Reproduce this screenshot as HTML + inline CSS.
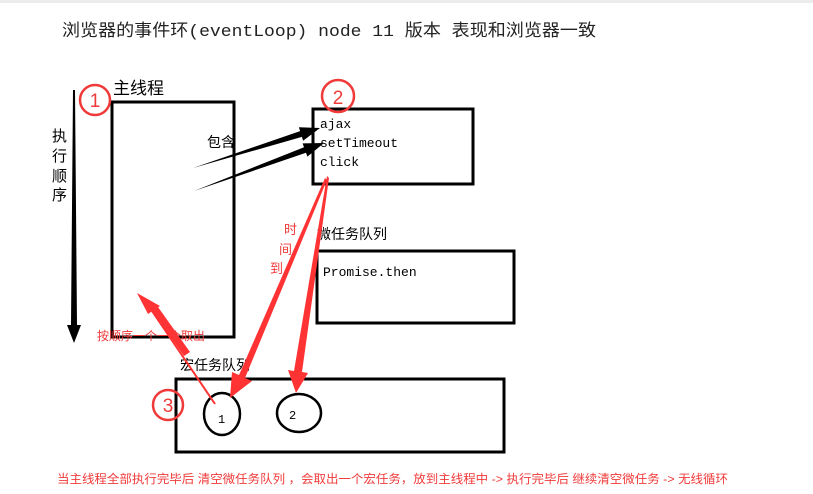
<!DOCTYPE html>
<html><head><meta charset="utf-8"><style>
html,body{margin:0;padding:0;background:#fff;}
svg{display:block;}
.cn{font-family:"Liberation Sans","WenQuanYi Zen Hei","Noto Sans CJK SC",sans-serif;}
.mono{font-family:"Liberation Mono","WenQuanYi Zen Hei","Noto Sans CJK SC",monospace;}
</style></head><body>
<svg width="813" height="494" viewBox="0 0 813 494" xmlns="http://www.w3.org/2000/svg">
<rect x="0" y="0" width="813" height="3" fill="#ececec"/>
<text x="62" y="36" class="mono" font-size="17" fill="#222" textLength="534" lengthAdjust="spacingAndGlyphs">浏览器的事件环(eventLoop)  node 11 版本 表现和浏览器一致</text>

<rect x="112" y="102" width="122" height="235" fill="none" stroke="#000" stroke-width="3"/>
<text x="113" y="94" class="cn" font-size="17">主线程</text>
<circle cx="95" cy="100" r="15" fill="none" stroke="#f03a3a" stroke-width="2.5"/>
<text x="95" y="107" class="cn" font-size="19" fill="#f03a3a" text-anchor="middle">1</text>

<polygon points="73,90 75,90 77,325 81,325 74,343 67,325 71,325" fill="#000"/>
<g class="cn" font-size="15">
<text x="52" y="141">执</text><text x="52" y="161">行</text><text x="52" y="181">顺</text><text x="52" y="200">序</text>
</g>
<text x="207" y="147" class="cn" font-size="14">包含</text>

<polygon points="193,168 300.1,131.1 298.9,127.3 320,128 303.1,140.7 301.9,136.9" fill="#000"/>
<polygon points="194,191 304,147.2 302.6,143.4 324,143 307.4,156.6 306,152.8" fill="#000"/>

<rect x="313" y="109" width="160" height="75" fill="none" stroke="#000" stroke-width="3"/>
<g class="mono" font-size="13"><text x="320" y="128">ajax</text><text x="320" y="147">setTimeout</text><text x="320" y="166">click</text></g>
<circle cx="338" cy="96" r="16" fill="none" stroke="#f03a3a" stroke-width="2.5"/>
<text x="338" y="104" class="cn" font-size="19" fill="#f03a3a" text-anchor="middle">2</text>

<text x="317" y="239" class="cn" font-size="14">微任务队列</text>
<rect x="317" y="251" width="197" height="72" fill="none" stroke="#000" stroke-width="3"/>
<text x="323" y="276" class="mono" font-size="13">Promise.then</text>
<g class="cn" font-size="13" fill="#f03a3a"><text x="284" y="234">时</text><text x="279" y="254">间</text><text x="270" y="273">到</text></g>

<text x="180" y="370" class="cn" font-size="14">宏任务队列</text>
<rect x="176" y="379" width="328" height="73" fill="none" stroke="#000" stroke-width="3"/>
<ellipse cx="222" cy="414" rx="18" ry="21" fill="#fff" stroke="#000" stroke-width="2.5"/>
<ellipse cx="299" cy="413" rx="22" ry="19" fill="#fff" stroke="#000" stroke-width="2.5"/>
<text x="218" y="423" class="mono" font-size="12">1</text>
<text x="289" y="419" class="mono" font-size="12">2</text>
<circle cx="168" cy="405" r="15" fill="none" stroke="#f03a3a" stroke-width="2.5"/>
<text x="168" y="412" class="cn" font-size="19" fill="#f03a3a" text-anchor="middle">3</text>

<polygon points="325,178 327,180 245,378 252,381 230,398 232,372 239,375" fill="#f33"/>
<polygon points="327,176 329,178 302,372 308,373 296,393 288,370 294,371" fill="#f33"/>
<line x1="215" y1="404" x2="152" y2="311" stroke="#f33" stroke-width="2"/>
<polygon points="137,293 160,306 148,314" fill="#f33"/>
<polygon points="152,311 158,307 190,352 184,356" fill="#f33"/>

<text x="97" y="340" class="cn" font-size="12" fill="#f03a3a">按顺序一个一个取出</text>
<text x="57" y="483" class="cn" font-size="12" fill="#f03a3a" textLength="671" lengthAdjust="spacingAndGlyphs">当主线程全部执行完毕后 清空微任务队列 ，会取出一个宏任务，放到主线程中 -&gt;  执行完毕后 继续清空微任务 -&gt; 无线循环</text>
</svg>
</body></html>
